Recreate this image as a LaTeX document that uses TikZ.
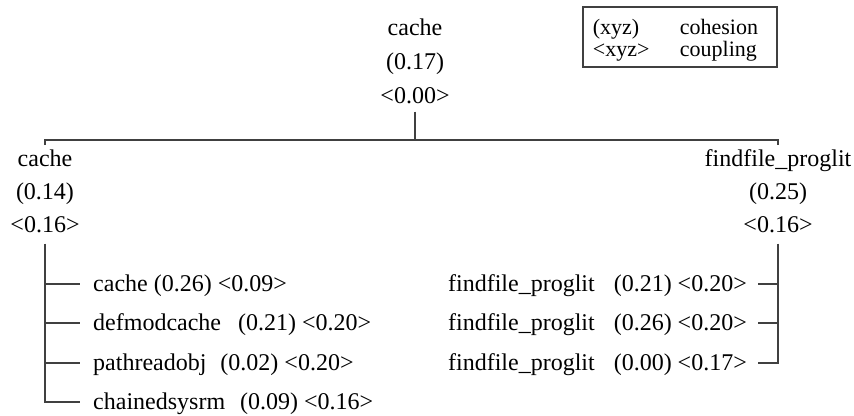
\documentclass[tikz,border=0pt]{standalone}
\usepackage{fontspec}
\setmainfont{Liberation Serif}
\usetikzlibrary{positioning}
\definecolor{treeline}{HTML}{404040}
\tikzset{
  rootlabel/.style={
    align=center,
    inner sep=0pt,
    font=\fontsize{24}{34}\selectfont
  },
  branchlabel/.style={
    rootlabel,
    font=\fontsize{24}{33}\selectfont
  },
  leaftext/.style={inner sep=0pt, font=\fontsize{24}{28}\selectfont},
  keybox/.style={
    draw=treeline,
    line width=1.5pt,
    minimum width=194pt,
    text height=27pt,
    text depth=33pt,
    inner sep=0pt,
    font=\fontsize{22}{22.5}\selectfont
  },
  treeedge/.style={draw=treeline, line width=1.6pt}
}

\begin{document}
\begin{tikzpicture}[x=1pt, y=-1pt]
  \useasboundingbox (0,0) rectangle (854,415);
  \node[rootlabel, anchor=base] (root) at (415,103) {cache\\(0.17)\\<0.00>};
  \node[keybox, anchor=base] (legend) at (680,34) {\begin{tabular}[t]{@{}p{87pt}@{}l@{\hspace{9pt}}}(xyz) & cohesion\\<xyz> & coupling\end{tabular}};
  \coordinate (bus) at (415,140);
  \node[branchlabel, anchor=base] (lnode) at (45,232) {cache\\(0.14)\\<0.16>};
  \node[branchlabel, anchor=base] (rnode) at (778,232) {findfile\_proglit\\(0.25)\\<0.16>};
  % left leaves
  \node[leaftext, anchor=base west] (c1) at (93,291) {cache (0.26) <0.09>};
  \node[leaftext, anchor=base west] (c2) at (93,330) {defmodcache\hspace{11pt} (0.21) <0.20>};
  \node[leaftext, anchor=base west] (c3) at (93,370) {pathreadobj\hspace{8pt} (0.02) <0.20>};
  \node[leaftext, anchor=base west] (c4) at (93,409) {chainedsysrm\hspace{9pt} (0.09) <0.16>};
  % right leaves
  \node[leaftext, anchor=base east] (r1) at (747,291) {findfile\_proglit\hspace{13pt} (0.21) <0.20>};
  \node[leaftext, anchor=base east] (r2) at (747,330) {findfile\_proglit\hspace{13pt} (0.26) <0.20>};
  \node[leaftext, anchor=base east] (r3) at (747,370) {findfile\_proglit\hspace{13pt} (0.00) <0.17>};
  % tree lines
  \draw[treeedge, shorten <=8pt] (root.south) -- (root.south |- bus);
  \draw[treeedge] (lnode.north |- bus) ++(0,5) -- (lnode.north |- bus) -- (rnode.north |- bus) -- ++(0,5);
  \draw[treeedge, shorten <=11pt] (lnode.south) |- ([xshift=-13pt,yshift=7pt]c4.base west);
  \draw[treeedge] (lnode.south |- c1.base) ++(0,-7) -- ([xshift=-13pt,yshift=7pt]c1.base west);
  \draw[treeedge] (lnode.south |- c2.base) ++(0,-7) -- ([xshift=-13pt,yshift=7pt]c2.base west);
  \draw[treeedge] (lnode.south |- c3.base) ++(0,-7) -- ([xshift=-13pt,yshift=7pt]c3.base west);
  \draw[treeedge, shorten <=11pt] (rnode.south) |- ([xshift=11pt,yshift=7pt]r3.base east);
  \draw[treeedge] (rnode.south |- r1.base) ++(0,-7) -- ([xshift=11pt,yshift=7pt]r1.base east);
  \draw[treeedge] (rnode.south |- r2.base) ++(0,-7) -- ([xshift=11pt,yshift=7pt]r2.base east);
\end{tikzpicture}
\end{document}
